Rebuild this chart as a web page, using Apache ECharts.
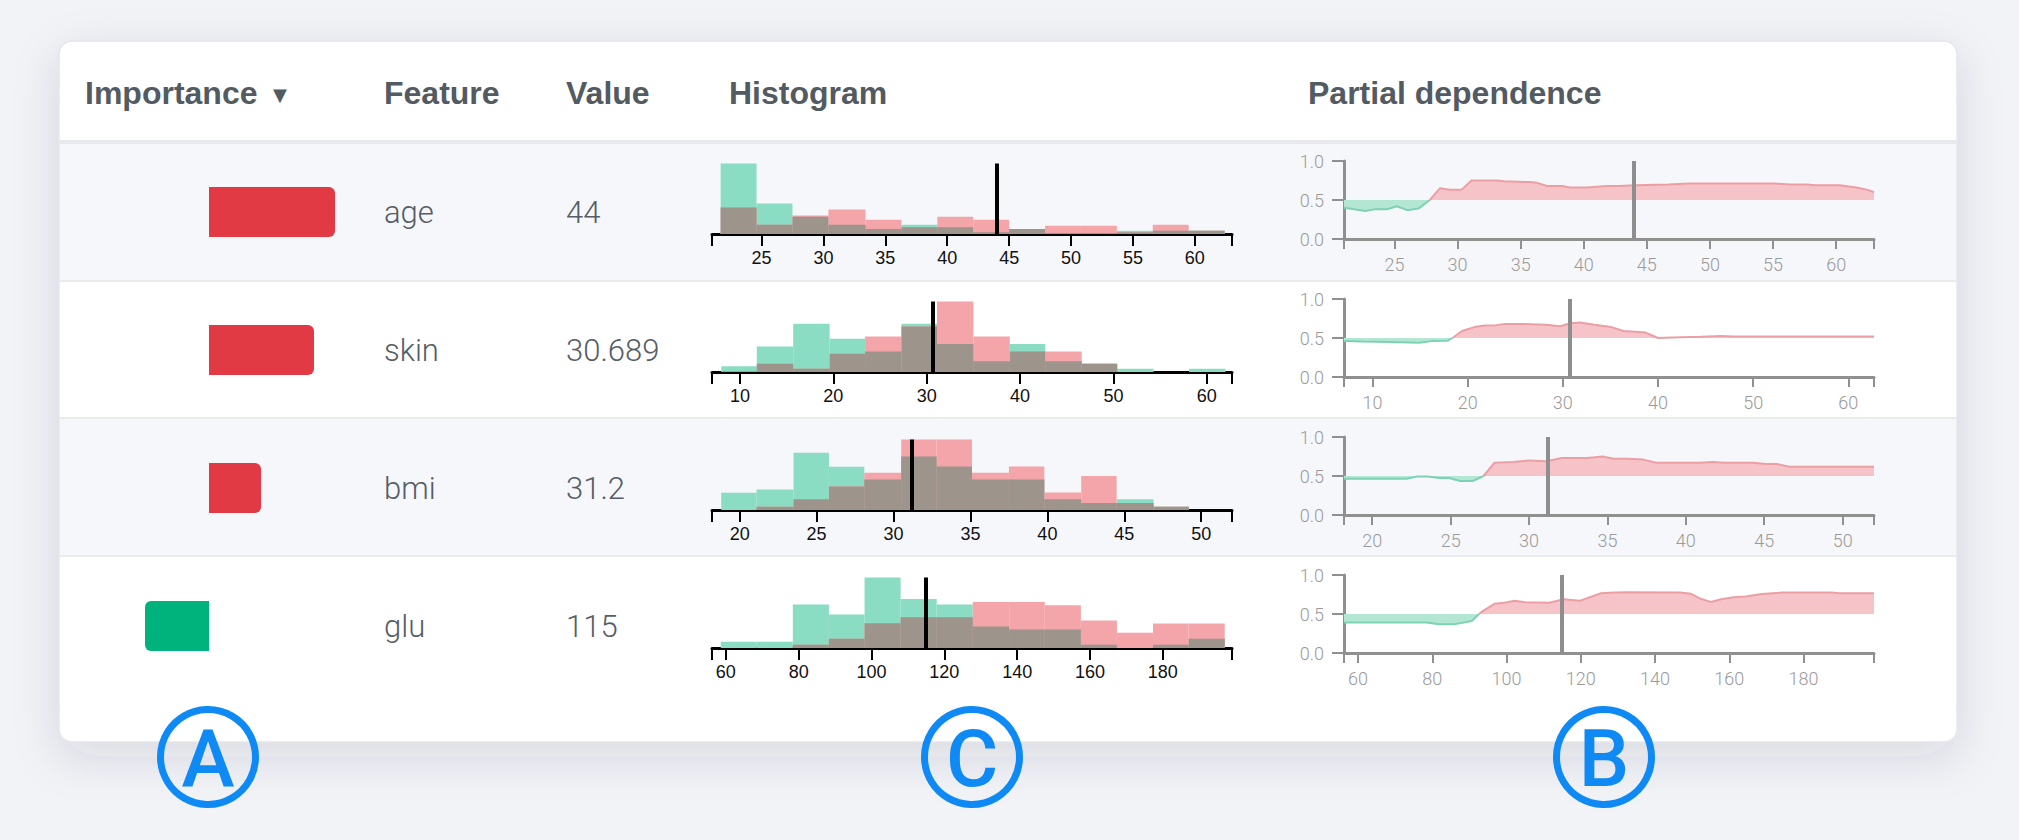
<!DOCTYPE html>
<html>
<head>
<meta charset="utf-8">
<title>Feature importance</title>
<script src="https://cdn.jsdelivr.net/npm/echarts@6/dist/echarts.min.js"></script>
<style>
    html, body { margin: 0; padding: 0; background: #f2f3f6; }
    #main { width: 2019px; height: 840px; }
</style>
</head>
<body>
<div id="main"></div>
<script>
// table contents
var headers = ['Importance', 'Feature', 'Value', 'Histogram', 'Partial dependence'];
var features = ['age', 'skin', 'bmi', 'glu'];
var featureValues = ['44', '30.689', '31.2', '115'];
var markers = [44, 30.689, 31.2, 115];
var importance = [0.126, 0.105, 0.052, -0.064];
var panelLetters = ['A', 'C', 'B'];

// axis domains and tick labels
var domains = [[21, 63], [7, 62.7], [18.2, 52], [56.2, 199]];
var ageTicks = [25, 30, 35, 40, 45, 50, 55, 60];
var skinTicks = [10, 20, 30, 40, 50, 60];
var bmiTicks = [20, 25, 30, 35, 40, 45, 50];
var gluTicks = [60, 80, 100, 120, 140, 160, 180];

// histogram bins: edges, negative class (green), positive class (red)
var ageEdges = [21.7, 24.6, 27.5, 30.4, 33.4, 36.3, 39.2, 42.1, 45.0, 47.9, 50.8, 53.7, 56.6, 59.5, 62.4];
var ageNeg = [211, 91, 52, 28, 15, 28, 20, 5, 15, 3, 3, 10, 10, 10];
var agePos = [79, 28, 55, 73, 43, 20, 52, 43, 15, 25, 25, 5, 28, 10];

var skinEdges = [8.0, 11.8, 15.7, 19.6, 23.4, 27.3, 31.1, 35.0, 38.9, 42.7, 46.6, 50.4, 54.3, 58.1, 62.0];
var skinNeg = [17, 77, 145, 100, 62, 145, 84, 32, 84, 32, 25, 10, 0, 10];
var skinPos = [2, 25, 10, 55, 107, 137, 212, 107, 62, 62, 25, 0, 0, 0];

var bmiEdges = [18.8, 21.1, 23.5, 25.8, 28.1, 30.5, 32.8, 35.1, 37.5, 39.8, 42.2, 44.5, 46.9, 49.2, 51.5];
var bmiNeg = [52, 62, 172, 130, 92, 161, 131, 92, 92, 32, 21, 32, 10, 0];
var bmiPos = [0, 10, 32, 71, 112, 212, 212, 112, 131, 53, 102, 21, 10, 0];

var gluEdges = [58.6, 68.5, 78.4, 88.3, 98.1, 108.0, 117.9, 127.8, 137.8, 147.6, 157.5, 167.4, 177.3, 187.1, 197.0];
var gluNeg = [19, 19, 130, 100, 211, 147, 130, 64, 55, 55, 10, 0, 10, 28];
var gluPos = [0, 0, 10, 28, 74, 92, 92, 138, 138, 128, 82, 46, 73, 73];

// partial dependence curves
var agePdX = [21, 21.8, 22.7, 23.4, 24.4, 25.2, 26.0, 26.9, 27.8, 28.6, 29.4, 30.3, 31.1, 33.1, 33.7, 35.7, 36.3, 37.1, 38.3, 38.9, 40.2, 41.8, 42.8, 44.1, 46.7, 48.3, 55.1, 56.4, 57.7, 58.3, 60.3, 61.6, 62.5, 63];
var agePdY = [0.40, 0.38, 0.36, 0.38, 0.38, 0.42, 0.37, 0.39, 0.50, 0.65, 0.63, 0.63, 0.75, 0.75, 0.74, 0.73, 0.72, 0.68, 0.68, 0.66, 0.66, 0.68, 0.68, 0.69, 0.70, 0.71, 0.71, 0.70, 0.70, 0.69, 0.69, 0.66, 0.63, 0.60];

var skinPdX = [7.0, 8.9, 11.9, 14.9, 16.2, 17.9, 18.4, 19.4, 20.7, 21.8, 23.0, 23.9, 25.6, 28.2, 29.7, 30.8, 31.8, 33.3, 35.1, 36.4, 38.7, 40.0, 41.5, 44.5, 46.7, 47.9, 62.7];
var skinPdY = [0.46, 0.455, 0.45, 0.44, 0.46, 0.465, 0.50, 0.59, 0.64, 0.66, 0.665, 0.68, 0.68, 0.67, 0.65, 0.69, 0.70, 0.67, 0.64, 0.59, 0.57, 0.50, 0.505, 0.515, 0.525, 0.52, 0.52];

var bmiPdX = [18.2, 22.2, 22.9, 23.5, 24.3, 24.9, 25.6, 26.4, 27.1, 27.8, 29.0, 30.0, 31.1, 32.1, 33.7, 34.7, 35.4, 36.3, 37.3, 38.1, 40.9, 41.7, 42.5, 44.3, 45.1, 45.8, 46.6, 52];
var bmiPdY = [0.465, 0.465, 0.495, 0.495, 0.475, 0.475, 0.435, 0.435, 0.50, 0.67, 0.68, 0.70, 0.69, 0.73, 0.73, 0.75, 0.72, 0.72, 0.71, 0.67, 0.67, 0.68, 0.67, 0.67, 0.655, 0.655, 0.62, 0.62];

var gluPdX = [56.2, 78.5, 81.8, 86.2, 90.6, 92.6, 93.4, 96.7, 99.4, 102.2, 104.9, 111.5, 115.4, 119.8, 125.3, 129.2, 132.5, 146.8, 149.6, 152.3, 155.0, 157.8, 161.1, 164.4, 168.8, 174.3, 187.5, 189.7, 199];
var gluPdY = [0.39, 0.39, 0.37, 0.37, 0.41, 0.50, 0.53, 0.63, 0.645, 0.67, 0.65, 0.645, 0.69, 0.67, 0.765, 0.775, 0.78, 0.775, 0.76, 0.695, 0.655, 0.69, 0.715, 0.725, 0.755, 0.775, 0.775, 0.765, 0.765];

var histEdges = [ageEdges, skinEdges, bmiEdges, gluEdges];
var histNeg = [ageNeg, skinNeg, bmiNeg, gluNeg];
var histPos = [agePos, skinPos, bmiPos, gluPos];
var axisTicks = [ageTicks, skinTicks, bmiTicks, gluTicks];
var pdX = [agePdX, skinPdX, bmiPdX, gluPdX];
var pdY = [agePdY, skinPdY, bmiPdY, gluPdY];

var textColor = '#555d66';
var sans = '"Liberation Sans", Arial, sans-serif';
var light = 'Roboto, "Liberation Sans", sans-serif';

var myChart = echarts.init(document.getElementById('main'), null, { renderer: 'svg' });

function renderBin(params, api) {
    var p0 = api.coord([api.value(0), api.value(2)]);
    var p1 = api.coord([api.value(1), 0]);
    return {
        type: 'rect',
        shape: { x: p0[0], y: p0[1], width: p1[0] - p0[0], height: p1[1] - p0[1] },
        style: { fill: api.visual('color') }
    };
}

function binData(edges, heights) {
    var out = [];
    for (var k = 0; k < heights.length; k++) {
        out.push([edges[k], edges[k + 1], heights[k]]);
    }
    return out;
}

var grids = [], xAxes = [], yAxes = [], series = [];

features.forEach(function (f, i) {
    var cy = 212 + 138 * i;
    var dom = domains[i];
    var ticks = axisTicks[i];
    var g;

    // importance bar
    g = grids.length;
    grids.push({ left: 109, top: cy - 25, width: 250, height: 50 });
    xAxes.push({ gridIndex: g, type: 'value', min: -0.1, max: 0.15, show: false });
    yAxes.push({ gridIndex: g, type: 'category', data: [f], show: false });
    var pos = importance[i] >= 0;
    series.push({
        type: 'bar', xAxisIndex: g, yAxisIndex: g, barWidth: 50, silent: true,
        data: [{
            value: importance[i],
            itemStyle: { color: pos ? '#e13a45' : '#00b27b', borderRadius: pos ? [0, 6, 6, 0] : [6, 0, 0, 6] }
        }]
    });

    // histogram
    g = grids.length;
    grids.push({ left: 712, top: cy - 48.5, width: 520, height: 70.5 });
    xAxes.push({
        gridIndex: g, type: 'value', min: dom[0], max: dom[1],
        axisLine: { show: true, onZero: false, lineStyle: { color: '#000', width: 3 } },
        axisTick: { show: true, length: 12, lineStyle: { color: '#000', width: 2 },
            customValues: [dom[0]].concat(ticks, [dom[1]]) },
        axisLabel: { color: '#111', fontSize: 18, margin: 15, fontFamily: sans, customValues: ticks },
        splitLine: { show: false }
    });
    var hmax = Math.max.apply(null, histNeg[i].concat(histPos[i]));
    yAxes.push({ gridIndex: g, type: 'value', min: 0, max: hmax, show: false });
    var overlap = histNeg[i].map(function (v, k) { return Math.min(v, histPos[i][k]); });
    series.push({
        type: 'custom', xAxisIndex: g, yAxisIndex: g, renderItem: renderBin, silent: true,
        encode: { x: [0, 1], y: 2 }, itemStyle: { color: '#8adcc3' },
        data: binData(histEdges[i], histNeg[i])
    });
    series.push({
        type: 'custom', xAxisIndex: g, yAxisIndex: g, renderItem: renderBin, silent: true,
        encode: { x: [0, 1], y: 2 }, itemStyle: { color: '#f3a5aa' },
        data: binData(histEdges[i], histPos[i])
    });
    series.push({
        type: 'custom', xAxisIndex: g, yAxisIndex: g, renderItem: renderBin, silent: true,
        encode: { x: [0, 1], y: 2 }, itemStyle: { color: '#9d948b' },
        data: binData(histEdges[i], overlap),
        markLine: {
            silent: true, symbol: ['none', 'none'], label: { show: false },
            lineStyle: { color: '#000', width: 4, type: 'solid' },
            data: [{ xAxis: markers[i] }]
        }
    });

    // partial dependence
    g = grids.length;
    grids.push({ left: 1344, top: cy - 51, width: 530, height: 78 });
    xAxes.push({
        gridIndex: g, type: 'value', min: dom[0], max: dom[1],
        axisLine: { show: true, onZero: false, lineStyle: { color: '#909090', width: 3 } },
        axisTick: { show: true, length: 10, lineStyle: { color: '#909090', width: 2 },
            customValues: [dom[0]].concat(ticks, [dom[1]]) },
        axisLabel: { color: '#9a9a9a', fontSize: 18, margin: 16, fontFamily: light, fontWeight: 300,
            customValues: ticks },
        splitLine: { show: false }
    });
    yAxes.push({
        gridIndex: g, type: 'value', min: 0, max: 1, interval: 0.5,
        axisLine: { show: true, lineStyle: { color: '#909090', width: 3 } },
        axisTick: { show: true, length: 12, lineStyle: { color: '#909090', width: 2 } },
        axisLabel: { color: '#9a9a9a', fontSize: 18, margin: 20, fontFamily: light, fontWeight: 300,
            formatter: function (v) { return v.toFixed(1); } },
        splitLine: { show: false }
    });
    var lower = [], upper = [];
    pdX[i].forEach(function (x, k) {
        var y = pdY[i][k];
        lower.push([x, y <= 0.5 ? y : '-']);
        upper.push([x, y >= 0.5 ? y : '-']);
    });
    series.push({
        type: 'line', xAxisIndex: g, yAxisIndex: g, data: lower, showSymbol: false, silent: true,
        lineStyle: { color: '#7ed2b3', width: 2 },
        areaStyle: { color: '#b3e7d4', opacity: 1, origin: 0.5 }
    });
    series.push({
        type: 'line', xAxisIndex: g, yAxisIndex: g, data: upper, showSymbol: false, silent: true,
        lineStyle: { color: '#eb9fa5', width: 2 },
        areaStyle: { color: '#f6c4c8', opacity: 1, origin: 0.5 },
        markLine: {
            silent: true, symbol: ['none', 'none'], label: { show: false },
            lineStyle: { color: '#8e8e8e', width: 4, type: 'solid' },
            data: [{ xAxis: markers[i] }]
        }
    });
});

// card, rows and labels
var elements = [
    { type: 'rect', z: -20, shape: { x: 59, y: 41, width: 1898, height: 701, r: 13 },
      style: { fill: '#fff', stroke: '#e3e5e9', lineWidth: 1.5,
               shadowBlur: 45, shadowOffsetY: 14, shadowColor: 'rgba(40,50,80,0.13)' } },
    { type: 'rect', z: -19, shape: { x: 60, y: 142, width: 1896, height: 139 }, style: { fill: '#f6f7fa' } },
    { type: 'rect', z: -19, shape: { x: 60, y: 418, width: 1896, height: 139 }, style: { fill: '#f6f7fa' } },
    { type: 'rect', z: -18, shape: { x: 60, y: 140, width: 1896, height: 4 }, style: { fill: '#e7e9ed' } },
    { type: 'rect', z: -18, shape: { x: 60, y: 280, width: 1896, height: 2 }, style: { fill: '#e8eaee' } },
    { type: 'rect', z: -18, shape: { x: 60, y: 417, width: 1896, height: 2 }, style: { fill: '#e8eaee' } },
    { type: 'rect', z: -18, shape: { x: 60, y: 555, width: 1896, height: 2 }, style: { fill: '#e8eaee' } }
];

var headerX = [85, 384, 566, 729, 1308];
headers.forEach(function (h, k) {
    elements.push({ type: 'text', z: 10, x: headerX[k], y: 93,
        style: { text: h, fill: '#525a62', font: 'bold 32px ' + sans, verticalAlign: 'middle', textVerticalAlign: 'middle' } });
});
elements.push({ type: 'text', z: 10, x: 273, y: 94,
    style: { text: '▼', fill: '#525a62', font: '18px "DejaVu Sans", sans-serif', verticalAlign: 'middle', textVerticalAlign: 'middle' } });

features.forEach(function (f, i) {
    var cy = 212 + 138 * i;
    elements.push({ type: 'text', z: 10, x: 384, y: cy,
        style: { text: f, fill: textColor, font: '300 31px ' + light, verticalAlign: 'middle', textVerticalAlign: 'middle' } });
    elements.push({ type: 'text', z: 10, x: 566, y: cy,
        style: { text: featureValues[i], fill: textColor, font: '300 31px ' + light, verticalAlign: 'middle', textVerticalAlign: 'middle' } });
});

var letterX = [208, 972, 1604];
panelLetters.forEach(function (l, k) {
    elements.push({ type: 'circle', z: 10, shape: { cx: letterX[k], cy: 757, r: 47.5 },
        style: { fill: 'none', stroke: '#0f8af5', lineWidth: 7 } });
    elements.push({ type: 'text', z: 11, x: letterX[k], y: 759,
        style: { text: l, fill: '#0f8af5', font: '500 80px ' + light,
                 align: 'center', textAlign: 'center', verticalAlign: 'middle', textVerticalAlign: 'middle' } });
});

var option = {
    animation: false,
    backgroundColor: '#f2f3f6',
    grid: grids,
    xAxis: xAxes,
    yAxis: yAxes,
    series: series,
    graphic: { elements: elements }
};
myChart.setOption(option);
</script>
</body>
</html>
